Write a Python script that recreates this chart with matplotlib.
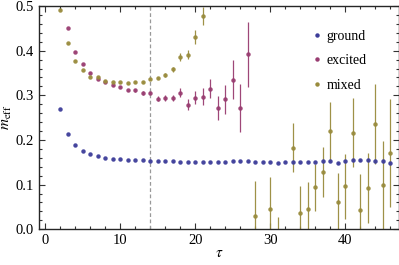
import numpy as np
import matplotlib
matplotlib.use("Agg")
import matplotlib.pyplot as plt
from matplotlib.ticker import MultipleLocator
from matplotlib.lines import Line2D

# ground state
tau_ground = list(range(2, 47))
m_ground = [0.270, 0.214, 0.188, 0.175, 0.168, 0.163, 0.159, 0.158, 0.157, 0.156,
            0.155, 0.155, 0.154, 0.152, 0.152, 0.152, 0.151, 0.151, 0.151, 0.151,
            0.151, 0.151, 0.150, 0.1535, 0.152, 0.152, 0.151, 0.151, 0.151, 0.149,
            0.151, 0.150, 0.150, 0.151, 0.151, 0.152, 0.153, 0.149, 0.154, 0.155,
            0.155, 0.155, 0.154, 0.154, 0.148]
e_ground = [0.0005] * 20 + [0.001] * 15 + [0.002] * 5 + [0.003, 0.003, 0.004, 0.004, 0.005]

# excited state
tau_excited = list(range(3, 28))
m_excited = [0.451, 0.398, 0.370, 0.351, 0.337, 0.329, 0.324, 0.318, 0.311, 0.311,
             0.305, 0.306, 0.292, 0.295, 0.294, 0.306, 0.279, 0.295, 0.297, 0.315,
             0.271, 0.291, 0.335, 0.271, 0.392]
e_excited = [0.001, 0.001, 0.001, 0.001, 0.001, 0.001, 0.002, 0.002, 0.002, 0.003,
             0.004, 0.005, 0.0056, 0.0067, 0.006, 0.0094, 0.012, 0.015, 0.019, 0.021,
             0.027, 0.033, 0.044, 0.054, 0.073]

# mixed
tau_mixed = [2, 3, 4, 5, 6, 7, 8, 9, 10, 11, 12, 13, 14, 15, 16, 17, 18, 19, 20, 21,
             28, 30, 31, 33, 34, 35, 36, 37, 38, 39, 40, 41, 42, 43, 44, 45, 46]
m_mixed = [0.492, 0.417, 0.378, 0.356, 0.342, 0.340, 0.332, 0.329, 0.329, 0.327,
           0.330, 0.330, 0.336, 0.339, 0.345, 0.358, 0.387, 0.391, 0.431, 0.478,
           0.030, 0.046, -0.040, 0.183, 0.037, 0.045, 0.094, 0.129, 0.220, 0.061,
           0.096, 0.216, 0.043, 0.092, 0.236, 0.098, 0.170]
e_mixed = [0.001, 0.001, 0.001, 0.001, 0.001, 0.001, 0.001, 0.001, 0.001, 0.001,
           0.002, 0.002, 0.002, 0.003, 0.005, 0.006, 0.009, 0.0105, 0.016, 0.021,
           0.077, 0.071, 0.068, 0.054, 0.059, 0.060, 0.053, 0.056, 0.064, 0.065,
           0.072, 0.077, 0.081, 0.079, 0.090, 0.099, 0.121]

series_labels = ['ground', 'excited', 'mixed']
tau_cut = 14

c_ground = (0.24, 0.24, 0.6)
c_excited = (0.6, 0.24, 0.4428)
c_mixed = (0.6, 0.547, 0.24)

plt.rcParams['font.family'] = ['Liberation Serif', 'DejaVu Serif']
plt.rcParams['mathtext.fontset'] = 'stix'

fig = plt.figure(figsize=(3.99, 2.65), dpi=100)
ax = fig.add_axes([0.098, 0.135, 0.901, 0.842])

handles = []
for t, m, e, c, lab in [(tau_ground, m_ground, e_ground, c_ground, series_labels[0]),
                        (tau_excited, m_excited, e_excited, c_excited, series_labels[1]),
                        (tau_mixed, m_mixed, e_mixed, c_mixed, series_labels[2])]:
    ax.errorbar(t, m, yerr=e, fmt='o', ms=3.2, color=c, ecolor=c, elinewidth=0.9,
                capsize=1.5, capthick=0.9, mew=0, alpha=0.95)
    handles.append(Line2D([], [], ls='none', marker='o', ms=3.2, mew=0, color=c,
                          label=lab))

ax.axvline(tau_cut, color='0.6', ls='--', lw=0.9, dashes=(3, 2))

ax.set_xlim(-0.85, 47.1)
ax.set_ylim(0.0, 0.5)
ax.xaxis.set_major_locator(MultipleLocator(10))
ax.xaxis.set_minor_locator(MultipleLocator(2))
ax.yaxis.set_major_locator(MultipleLocator(0.1))
ax.yaxis.set_minor_locator(MultipleLocator(0.02))
ax.yaxis.set_major_formatter(matplotlib.ticker.FormatStrFormatter('%.1f'))
ax.tick_params(which='both', direction='in', top=True, right=True, labelsize=10.5,
               width=0.8, color='0.2')
ax.tick_params(which='major', length=4)
ax.tick_params(which='minor', length=2)
for s in ax.spines.values():
    s.set_linewidth(1.0)
    s.set_color('0.15')

ax.set_xlabel(r'$\tau$', fontsize=11, labelpad=0)
ax.set_ylabel(r'$m_{\rm eff}$', fontsize=11, labelpad=1)

ax.legend(handles=handles, loc='upper left', bbox_to_anchor=(0.757, 0.895),
          frameon=False, fontsize=10, handletextpad=0.3, labelspacing=0.85,
          handlelength=0.8, borderaxespad=0, borderpad=0)

fig.savefig('out.png', dpi=100)
